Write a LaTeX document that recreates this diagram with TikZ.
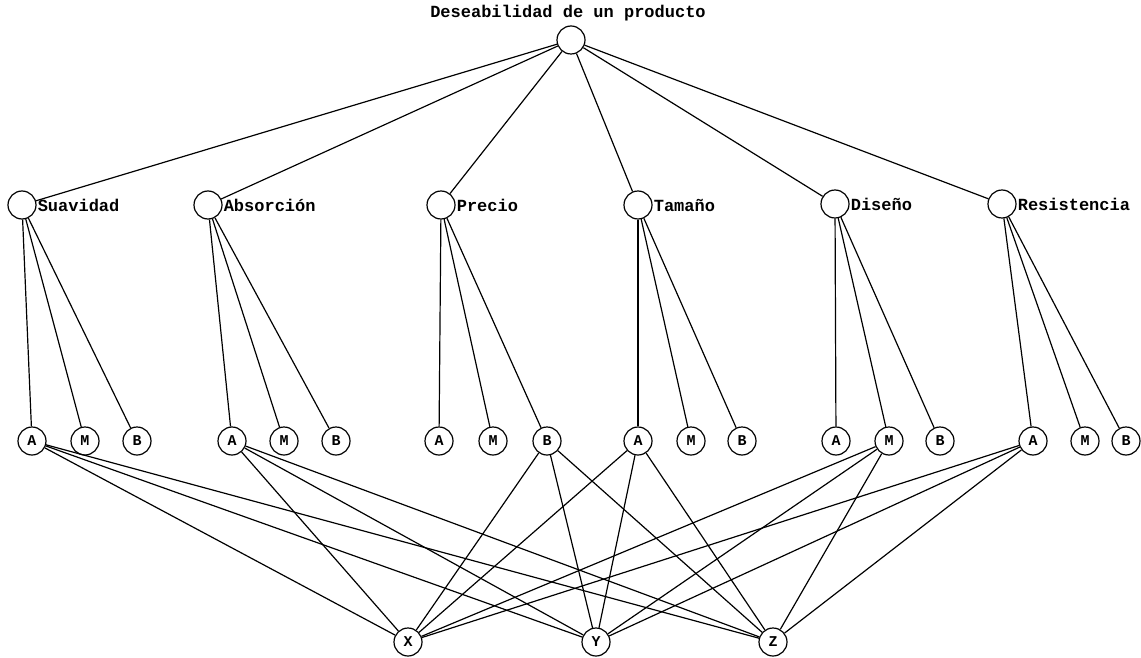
\documentclass[tikz,border=0pt]{standalone}
\usepackage{fontspec}
\newfontfamily\cour{Liberation Mono}
\begin{document}
\begin{tikzpicture}[x=1bp,y=-1bp,
  nd/.style={circle,draw,line width=1.2pt,minimum size=28bp,inner sep=0pt,font=\cour\bfseries\fontsize{15bp}{17bp}\selectfont},
  lbl/.style={anchor=west,inner sep=1bp,font=\cour\bfseries\fontsize{17bp}{20bp}\selectfont},
  ed/.style={line width=1.2pt}]
\useasboundingbox (0,0) rectangle (1141,658);
% root
\node[nd] (top) at (571,40) {};
\node[font=\cour\bfseries\fontsize{17bp}{20bp}\selectfont,anchor=south] (title) at (568,25) {Deseabilidad de un producto};
% level 2
\node[nd] (s) at (22,205) {};
\node[nd] (ab) at (208,205) {};
\node[nd] (p) at (441,205) {};
\node[nd] (t) at (638,205) {};
\node[nd] (d) at (835,204) {};
\node[nd] (r) at (1002,204) {};
\node[lbl] (sl) at (s.east) {Suavidad};
\node[lbl] (abl) at (ab.east) {Absorción};
\node[lbl] (pl) at (p.east) {Precio};
\node[lbl] (tl) at (t.east) {Tamaño};
\node[lbl] (dl) at (d.east) {Diseño};
\node[lbl] (rl) at (r.east) {Resistencia};
% level 3
\node[nd] (sA) at (32,441) {A};
\node[nd] (sM) at (85,441) {M};
\node[nd] (sB) at (137,441) {B};
\node[nd] (abA) at (232,441) {A};
\node[nd] (abM) at (284,441) {M};
\node[nd] (abB) at (336,441) {B};
\node[nd] (pA) at (439,441) {A};
\node[nd] (pM) at (493,441) {M};
\node[nd] (pB) at (547,441) {B};
\node[nd] (tA) at (638,441) {A};
\node[nd] (tM) at (691,441) {M};
\node[nd] (tB) at (742,441) {B};
\node[nd] (dA) at (836,441) {A};
\node[nd] (dM) at (889,441) {M};
\node[nd] (dB) at (940,441) {B};
\node[nd] (rA) at (1033,441) {A};
\node[nd] (rM) at (1085,441) {M};
\node[nd] (rB) at (1126,441) {B};
% bottom
\node[nd] (x) at (408,642) {X};
\node[nd] (y) at (596,642) {Y};
\node[nd] (z) at (773,642) {Z};
% edges
\foreach \n in {s,ab,p,t,d,r} {
  \draw[ed] (top) -- (\n);
  \draw[ed] (\n) -- (\n A);
  \draw[ed] (\n) -- (\n M);
  \draw[ed] (\n) -- (\n B);
}
\foreach \m in {sA,abA,pB,tA,dM,rA} {
  \draw[ed] (\m) -- (x);
  \draw[ed] (\m) -- (y);
  \draw[ed] (\m) -- (z);
}
\end{tikzpicture}
\end{document}
